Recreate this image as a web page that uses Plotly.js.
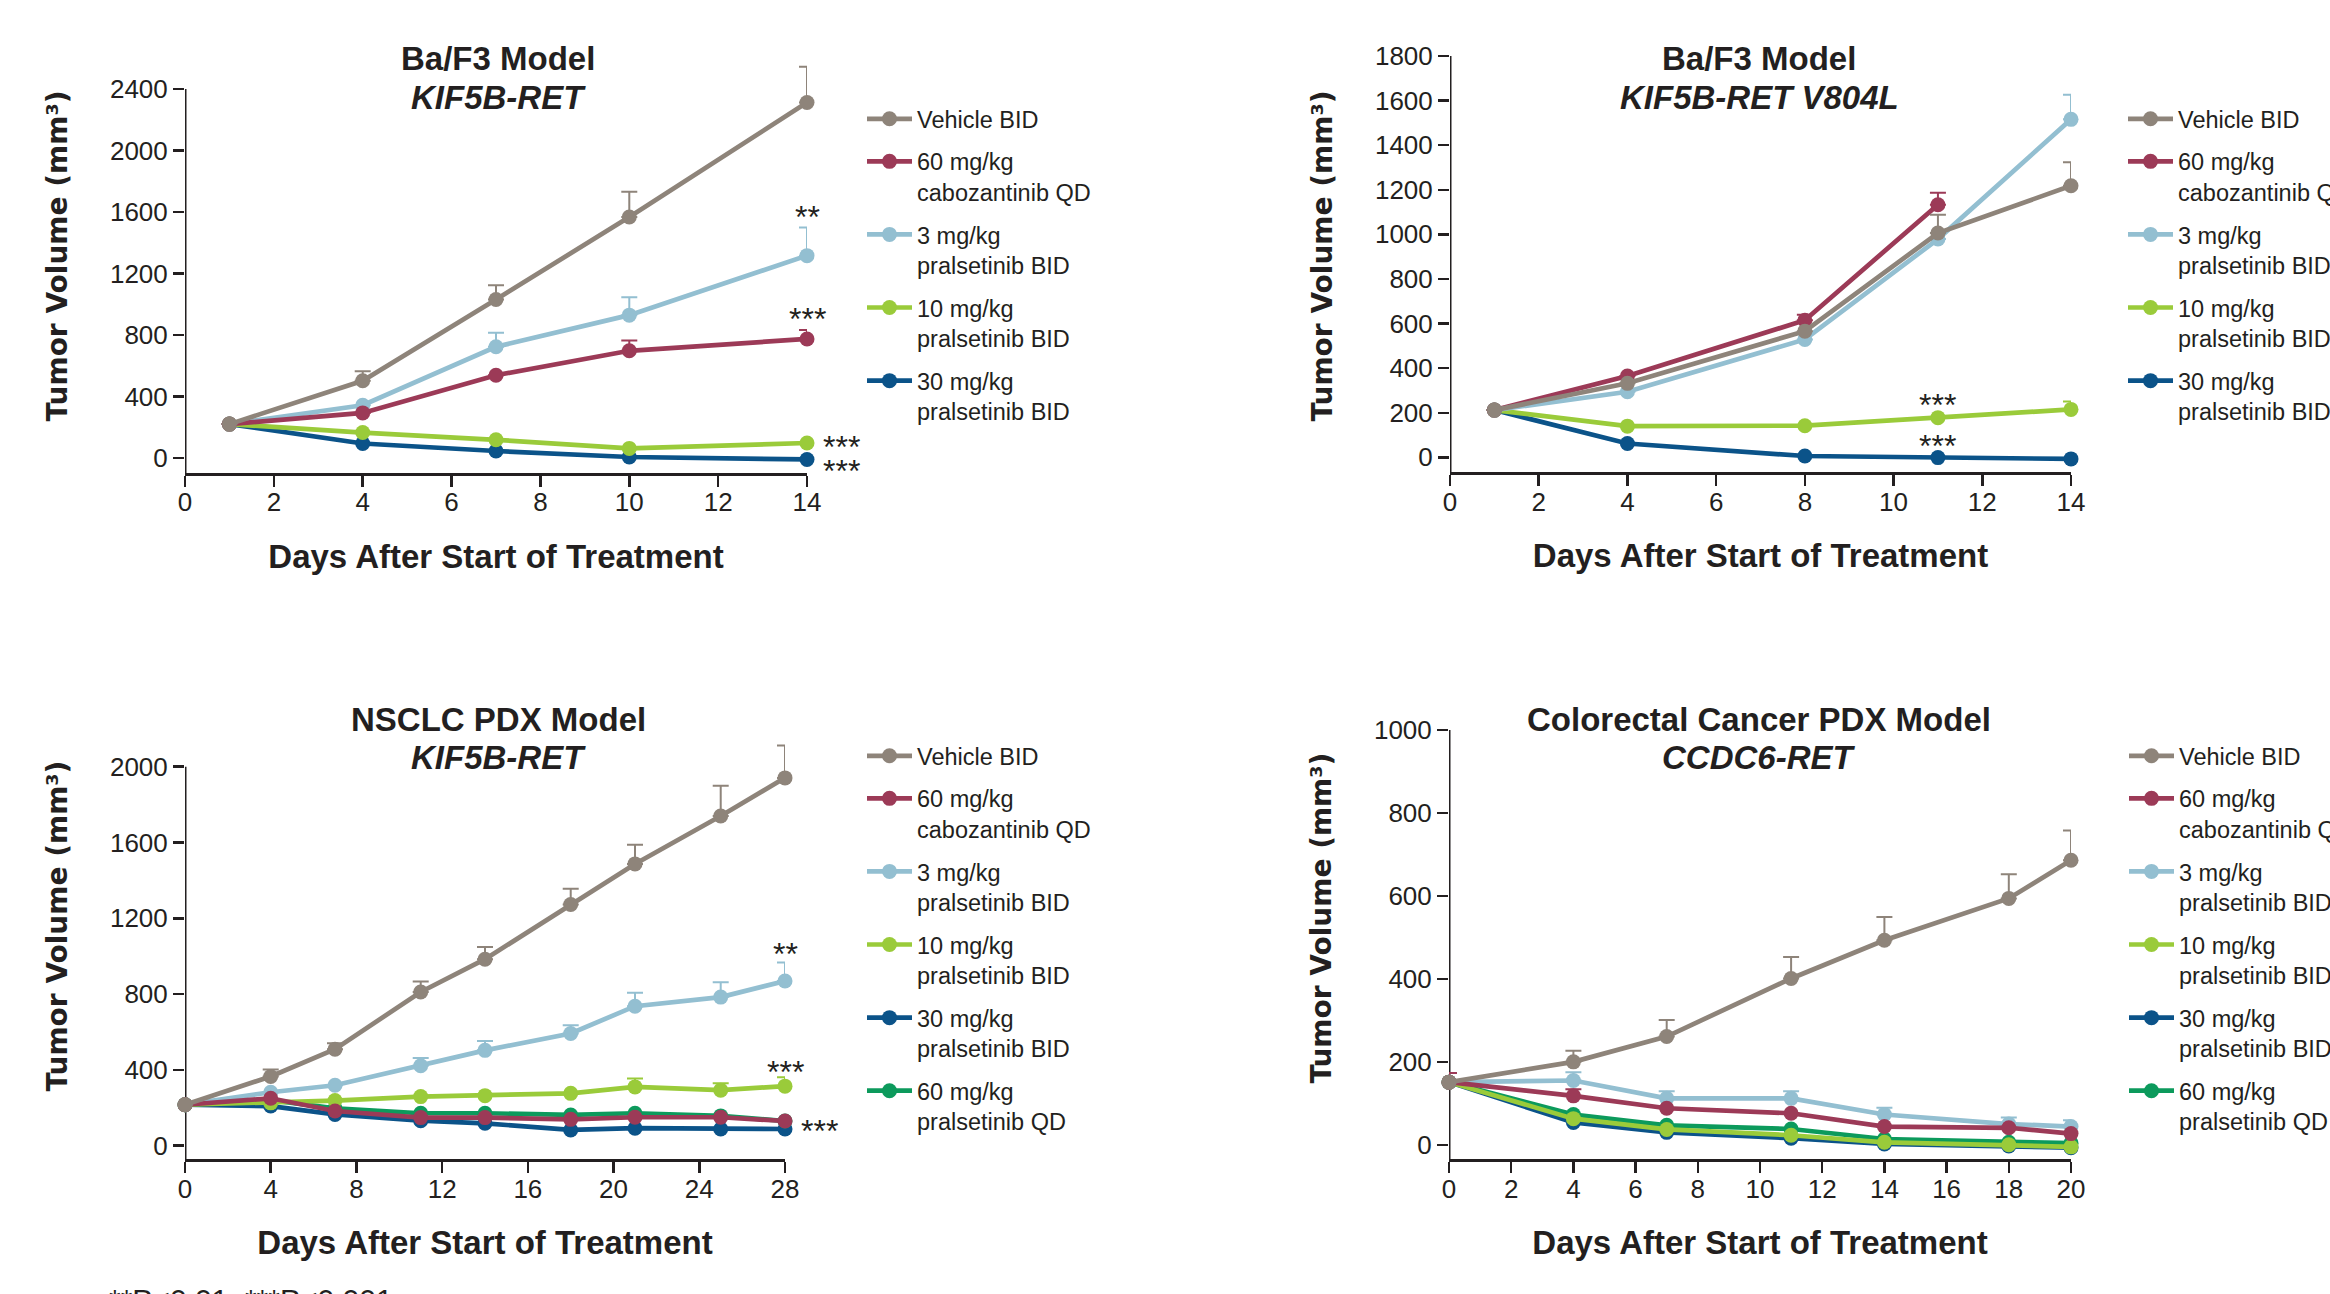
<!DOCTYPE html>
<html><head><meta charset="utf-8">
<script src="https://cdn.plot.ly/plotly-3.0.1.min.js"></script>
<style>html,body{margin:0;padding:0;background:#fff}#chart{width:2330px;height:1294px}</style>
</head><body><div id="chart"></div>
<script>
// ---------- data ----------
const seriesNames = {
  vehicle: "Vehicle BID",
  cabo60: "60 mg/kg<br>cabozantinib QD",
  prals3: "3 mg/kg<br>pralsetinib BID",
  prals10: "10 mg/kg<br>pralsetinib BID",
  prals30: "30 mg/kg<br>pralsetinib BID",
  prals60qd: "60 mg/kg<br>pralsetinib QD"
};
const panelModels = ["Ba/F3 Model", "Ba/F3 Model", "NSCLC PDX Model", "Colorectal Cancer PDX Model"];
const panelFusions = ["KIF5B-RET", "KIF5B-RET V804L", "KIF5B-RET", "CCDC6-RET"];
const xTitle = "Days After Start of Treatment";
const yTitle = "Tumor Volume (mm³)";
const footnote = "**P&lt;0.01; ***P&lt;0.001";

// Panel 1: Ba/F3 KIF5B-RET
const p1Days = [1, 4, 7, 10, 14];
const p1Vehicle = [220, 502, 1031, 1567, 2312];
const p1VehicleErr = [0, 62, 93, 165, 232];
const p1Cabo60 = [220, 293, 538, 697, 774];
const p1Cabo60Err = [0, 0, 0, 67, 58];
const p1Prals3 = [220, 343, 723, 929, 1316];
const p1Prals3Err = [0, 0, 91, 117, 183];
const p1Prals10 = [220, 165, 118, 62, 97];
const p1Prals30 = [220, 94, 45, 6, -10];

// Panel 2: Ba/F3 KIF5B-RET V804L
const p2Days = [1, 4, 8, 11, 14];
const p2CaboDays = [1, 4, 8, 11];
const p2Vehicle = [212, 332, 566, 1006, 1218];
const p2VehicleErr = [0, 0, 0, 82, 106];
const p2Cabo60 = [212, 365, 615, 1133];
const p2Cabo60Err = [0, 0, 25, 54];
const p2Prals3 = [212, 294, 529, 979, 1516];
const p2Prals3Err = [0, 0, 0, 0, 110];
const p2Prals10 = [212, 140, 142, 178, 215];
const p2Prals10Err = [0, 0, 0, 0, 36];
const p2Prals30 = [212, 62, 6, -1, -7];

// Panel 3: NSCLC PDX KIF5B-RET
const p3Days = [0, 4, 7, 11, 14, 18, 21, 25, 28];
const p3Vehicle = [216, 365, 509, 811, 984, 1273, 1487, 1740, 1941];
const p3VehicleErr = [0, 37, 31, 55, 65, 83, 101, 160, 171];
const p3Cabo60 = [216, 250, 183, 148, 148, 139, 150, 150, 130];
const p3Prals3 = [216, 282, 319, 422, 503, 592, 736, 784, 869];
const p3Prals3Err = [0, 0, 0, 40, 49, 43, 71, 78, 97];
const p3Prals10 = [216, 226, 238, 259, 264, 276, 310, 293, 314];
const p3Prals10Err = [0, 0, 0, 0, 0, 0, 45, 37, 47];
const p3Prals30 = [216, 209, 165, 132, 118, 83, 92, 88, 88];
const p3Prals60qd = [216, 240, 197, 171, 171, 162, 171, 157, 130];

// Panel 4: Colorectal PDX CCDC6-RET
const p4Days = [0, 4, 7, 11, 14, 18, 20];
const p4Vehicle = [151, 200, 261, 401, 493, 594, 686];
const p4VehicleErr = [0, 27, 40, 52, 56, 58, 72];
const p4Cabo60 = [151, 118, 88, 76, 44, 41, 27];
const p4Cabo60Err = [22, 16, 0, 0, 0, 0, 0];
const p4Prals3 = [151, 155, 112, 112, 73, 50, 44];
const p4Prals3Err = [0, 20, 17, 17, 16, 16, 15];
const p4Prals10 = [151, 63, 37, 23, 6, 0, -5];
const p4Prals30 = [151, 54, 30, 16, 2, -3, -7];
const p4Prals60qd = [151, 73, 47, 38, 14, 6, 4];

// significance marks: [panel, x, y, text, side]
const sigMarks = [
  [1, 14, 1596, "**", "c"], [1, 14, 929, "***", "c"],
  [1, 14, 96, "***", "r"], [1, 14, -58, "***", "r"],
  [2, 11, 251, "***", "c"], [2, 11, 71, "***", "c"],
  [3, 28, 1032, "**", "c"], [3, 28, 412, "***", "c"], [3, 28, 96, "***", "r"]
];

// ---------- style ----------
const W = 2330, H = 1294;
const FONT = "Liberation Sans, Arial, sans-serif";
const TXT = "#231f20";
const colors = {
  vehicle: "#8e847a", cabo60: "#9c3a57", prals3: "#93bfd1",
  prals10: "#9acb3a", prals30: "#0b5389", prals60qd: "#0c9a5c"
};
const ranks = {vehicle:1, cabo60:2, prals3:3, prals10:4, prals30:5, prals60qd:6};
const drawOrder = ["prals30", "prals60qd", "prals10", "prals3", "cabo60", "vehicle"];

// layout geometry (pixels): x extent of axis, y of top tick and of x-axis line
const panels = [
  {n:1, series:{vehicle:[p1Days,p1Vehicle,p1VehicleErr], cabo60:[p1Days,p1Cabo60,p1Cabo60Err], prals3:[p1Days,p1Prals3,p1Prals3Err], prals10:[p1Days,p1Prals10,null], prals30:[p1Days,p1Prals30,null]},
   xpx:[185,807], topPx:89, botPx:473, xr:[0,14], xd:2, ymin:-98, ytop:2400, yext:2725, yd:400, leg:[862,97], cx:498, cy:[58,97]},
  {n:2, series:{vehicle:[p2Days,p2Vehicle,p2VehicleErr], cabo60:[p2CaboDays,p2Cabo60,p2Cabo60Err], prals3:[p2Days,p2Prals3,p2Prals3Err], prals10:[p2Days,p2Prals10,p2Prals10Err], prals30:[p2Days,p2Prals30,null]},
   xpx:[1450,2071], topPx:56, botPx:472.3, xr:[0,14], xd:2, ymin:-67, ytop:1800, yext:1873, yd:200, leg:[2123,97], cx:1759, cy:[58,97]},
  {n:3, series:{vehicle:[p3Days,p3Vehicle,p3VehicleErr], cabo60:[p3Days,p3Cabo60,null], prals3:[p3Days,p3Prals3,p3Prals3Err], prals10:[p3Days,p3Prals10,p3Prals10Err], prals30:[p3Days,p3Prals30,null], prals60qd:[p3Days,p3Prals60qd,null]},
   xpx:[185,785], topPx:766.7, botPx:1159.3, xr:[0,28], xd:4, ymin:-72, ytop:2000, yext:2390, yd:400, leg:[862,734], cx:498, cy:[719,757]},
  {n:4, series:{vehicle:[p4Days,p4Vehicle,p4VehicleErr], cabo60:[p4Days,p4Cabo60,p4Cabo60Err], prals3:[p4Days,p4Prals3,p4Prals3Err], prals10:[p4Days,p4Prals10,null], prals30:[p4Days,p4Prals30,null], prals60qd:[p4Days,p4Prals60qd,null]},
   xpx:[1449,2071], topPx:730, botPx:1159.3, xr:[0,20], xd:2, ymin:-35, ytop:1000, yext:1128, yd:200, leg:[2124,734], cx:1759, cy:[719,757]}
];

const traces = [];
const layout = {
  width: W, height: H, margin: {l:0, r:0, t:0, b:0, autoexpand:false},
  paper_bgcolor: "#fff", plot_bgcolor: "rgba(0,0,0,0)",
  font: {family: FONT, color: TXT}, annotations: [], shapes: [], showlegend: true
};

panels.forEach(p => {
  const sfx = p.n === 1 ? "" : String(p.n);
  const legKey = p.n === 1 ? "legend" : "legend" + p.n;
  drawOrder.forEach(k => {
    const s = p.series[k];
    if (!s) return;
    const [xs, ys, errs] = s;
    const hasErr = errs && errs.some(v => v > 0);
    traces.push({
      type: "scatter", mode: "lines+markers",
      x: xs, y: ys, xaxis: "x" + sfx, yaxis: "y" + sfx,
      name: seriesNames[k], legend: legKey, legendgroup: "p" + p.n + k,
      legendrank: ranks[k], cliponaxis: false,
      line: {color: colors[k], width: 4.7},
      marker: {color: colors[k], size: 15},
      error_y: hasErr ? {type:"data", symmetric:false, array: errs,
        arrayminus: errs.map(() => 0), color: colors[k], thickness: 2, width: 8} : {visible:false}
    });
  });
  const axBase = {ticks:"outside", ticklen:11,
    tickwidth:2.5, tickcolor:TXT, tickfont:{family:FONT, size:26, color:TXT},
    showgrid:false, zeroline:false, automargin:false, fixedrange:true};
  // y scale: pixels per unit from top tick to x-axis line
  const ppu = (p.botPx - p.topPx) / (p.ytop - p.ymin);
  const domTopPx = p.topPx - (p.yext - p.ytop) * ppu;
  layout["xaxis" + sfx] = Object.assign({}, axBase, {
    showline:true, linecolor:TXT, linewidth:3,
    domain: [p.xpx[0]/W, p.xpx[1]/W], range: p.xr, dtick: p.xd, tick0: 0,
    anchor: "y" + sfx, ticklabelstandoff: -7,
    title: {text: xTitle, font:{family:FONT, size:33, weight:"bold", color:TXT}, standoff: 29}
  });
  layout["yaxis" + sfx] = Object.assign({}, axBase, {
    showline:false,
    domain: [1 - p.botPx/H, 1 - domTopPx/H], range: [p.ymin, p.yext], dtick: p.yd, tick0: 0,
    anchor: "x" + sfx,
    title: {text: yTitle, font:{family:"DejaVu Sans, sans-serif", size:28, weight:"bold", color:TXT}, standoff: 34}
  });
  // vertical axis line ends at the top tick, as in the reference
  layout.shapes.push({type:"line", xref:"x" + sfx, yref:"y" + sfx, layer:"below",
    x0: p.xr[0], x1: p.xr[0], y0: p.ymin, y1: p.ytop, line:{color:TXT, width:3}});
  layout[legKey] = {
    x: p.leg[0]/W, y: 1 - p.leg[1]/H, xanchor:"left", yanchor:"top",
    font:{family:FONT, size:23.5, color:TXT}, bgcolor:"rgba(0,0,0,0)",
    tracegroupgap: 9, itemwidth: 45, valign: "top", traceorder: "grouped"
  };
  layout.annotations.push({
    xref:"paper", yref:"paper", x: p.cx/W, y: 1 - p.cy[0]/H, xanchor:"center", yanchor:"middle",
    text: panelModels[p.n-1], showarrow:false,
    font:{family:FONT, size:33, weight:"bold", color:TXT}
  });
  layout.annotations.push({
    xref:"paper", yref:"paper", x: p.cx/W, y: 1 - p.cy[1]/H, xanchor:"center", yanchor:"middle",
    text: "<i>" + panelFusions[p.n-1] + "</i>", showarrow:false,
    font:{family:FONT, size:33, weight:"bold", color:TXT}
  });
});

sigMarks.forEach(m => {
  const sfx = m[0] === 1 ? "" : String(m[0]);
  const right = m[4] === "r";
  layout.annotations.push({
    xref: "x" + sfx, yref: "y" + sfx, x: m[1], y: m[2], text: m[3], showarrow:false,
    xanchor: right ? "left" : "center", yanchor: "middle",
    xshift: right ? 14 : 0, yshift: -4,
    font: {family:FONT, size:32, color:TXT}
  });
});

layout.annotations.push({
  xref:"paper", yref:"paper", x: 107/W, y: 1 - 1281/H, xanchor:"left", yanchor:"top",
  text: footnote, showarrow:false, font:{family:FONT, size:30, color:TXT}
});

Plotly.newPlot("chart", traces, layout, {displayModeBar:false, staticPlot:true});
</script>
</body></html>
